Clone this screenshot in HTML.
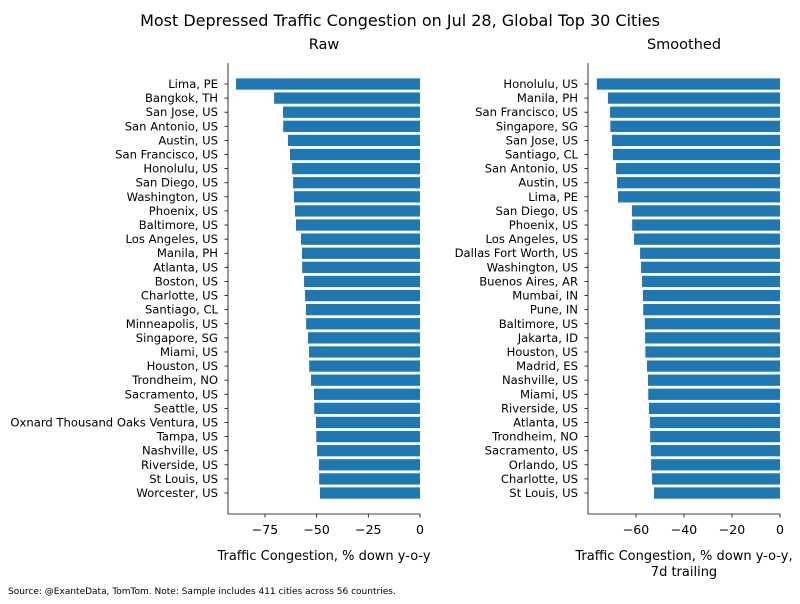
<!DOCTYPE html>
<html><head><meta charset="utf-8"><style>
body{margin:0;background:#fff;font-family:"DejaVu Sans","Liberation Sans",sans-serif}
svg text{font-family:"DejaVu Sans","Liberation Sans",sans-serif}
</style></head><body>
<svg id="chart" width="800" height="600" xmlns="http://www.w3.org/2000/svg">
<text x="400" y="26" font-size="16" text-anchor="middle">Most Depressed Traffic Congestion on Jul 28, Global Top 30 Cities</text>
<text x="8" y="594" font-size="9">Source: @ExanteData, TomTom.   Note: Sample includes 411 cities across 56 countries.</text>
</svg>
<script>
const rawCities=["Lima, PE","Bangkok, TH","San Jose, US","San Antonio, US","Austin, US","San Francisco, US","Honolulu, US","San Diego, US","Washington, US","Phoenix, US","Baltimore, US","Los Angeles, US","Manila, PH","Atlanta, US","Boston, US","Charlotte, US","Santiago, CL","Minneapolis, US","Singapore, SG","Miami, US","Houston, US","Trondheim, NO","Sacramento, US","Seattle, US","Oxnard Thousand Oaks Ventura, US","Tampa, US","Nashville, US","Riverside, US","St Louis, US","Worcester, US"];
const rawValues=[-89,-70.6,-66.3,-66.2,-63.9,-62.9,-61.9,-61.4,-61,-60.5,-60,-57.6,-57.1,-57,-56.1,-55.6,-55.2,-55.1,-54.2,-53.7,-53.6,-52.7,-51.3,-51.2,-50.3,-50.2,-49.8,-48.9,-48.8,-48.4];
const rawTicks=[-75,-50,-25,0];
const smCities=["Honolulu, US","Manila, PH","San Francisco, US","Singapore, SG","San Jose, US","Santiago, CL","San Antonio, US","Austin, US","Lima, PE","San Diego, US","Phoenix, US","Los Angeles, US","Dallas Fort Worth, US","Washington, US","Buenos Aires, AR","Mumbai, IN","Pune, IN","Baltimore, US","Jakarta, ID","Houston, US","Madrid, ES","Nashville, US","Miami, US","Riverside, US","Atlanta, US","Trondheim, NO","Sacramento, US","Orlando, US","Charlotte, US","St Louis, US"];
const smValues=[-76.3,-71.7,-70.8,-70.7,-70,-69.6,-68.3,-67.9,-67.5,-61.7,-61.6,-60.8,-58.3,-57.9,-57.5,-57.1,-57,-56.3,-56.2,-56.1,-55.4,-55,-54.9,-54.6,-54.2,-54.1,-53.8,-53.7,-53.3,-52.5];
const smTicks=[-60,-40,-20,0];
const NS="http://www.w3.org/2000/svg";
const svg=document.getElementById('chart');
function mk(tag,attrs,parent){const e=document.createElementNS(NS,tag);for(const k in attrs)e.setAttribute(k,attrs[k]);(parent||svg).appendChild(e);return e;}
function panel(opt){
  const g=mk('g',{});
  
  
  const x=v=>opt.x1+(v-opt.vmax)*(opt.x1-opt.x0)/(opt.vmax-opt.vmin);
  const n=opt.cats.length;
  const yTop=63,yBot=514;
  const step=(493-84)/(n-1);
  const y=i=>84+i*step;
  opt.vals.forEach((v,i)=>{
    const r=mk('rect',{x:x(v),y:y(i)-step*0.4,width:x(0)-x(v),height:step*0.8,fill:'#1f77b4'},g);
    
    
    const t=mk('text',{x:opt.x0-10,y:y(i)+4,'font-size':11.6,'text-anchor':'end'},g);
    t.textContent=opt.cats[i];
    
    
    mk('line',{x1:opt.x0-3.5,x2:opt.x0,y1:y(i),y2:y(i),stroke:'#000','stroke-width':0.8},g);
  });
  mk('line',{x1:opt.x0,x2:opt.x0,y1:yTop,y2:yBot,stroke:'#000','stroke-width':0.8},g);
  mk('line',{x1:opt.x0,x2:opt.x1,y1:yBot,y2:yBot,stroke:'#000','stroke-width':0.8},g);
  opt.ticks.forEach(tv=>{
    mk('line',{x1:x(tv),x2:x(tv),y1:yBot,y2:yBot+3.5,stroke:'#000','stroke-width':0.8},g);
    const t=mk('text',{x:x(tv),y:yBot+20,'font-size':12.5,'text-anchor':'middle'},g);
    t.textContent=(tv<0?'\u2212':'')+Math.abs(tv);
    
    
  });
  const st=mk('text',{x:(opt.x0+opt.x1)/2,y:49,'font-size':14.5,'text-anchor':'middle'},g);
  st.textContent=opt.title;
  
  
  opt.xlabel.forEach((l,k)=>{
    const t=mk('text',{x:(opt.x0+opt.x1)/2,y:560+k*16,'font-size':13,'text-anchor':'middle'},g);
    t.textContent=l;
    
    
  });
}
panel({name:'raw-panel',cats:rawCities,vals:rawValues,ticks:rawTicks,x0:228,x1:420,vmin:-92.9,vmax:0,title:'Raw',xlabel:['Traffic Congestion, % down y-o-y']});
panel({name:'smoothed-panel',cats:smCities,vals:smValues,ticks:smTicks,x0:588,x1:780,vmin:-80,vmax:0,title:'Smoothed',xlabel:['Traffic Congestion, % down y-o-y,','7d trailing']});
</script>
</body></html>
